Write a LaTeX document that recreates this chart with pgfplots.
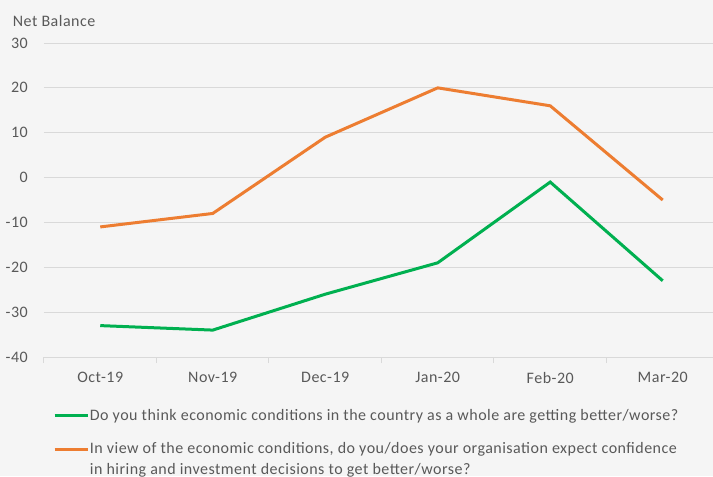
\documentclass[border=0pt]{standalone}
\usepackage{pgfplots}
\pgfplotsset{compat=1.18}
\usepackage{fontspec}
\setmainfont{Carlito}[LetterSpace=3]
\definecolor{bg}{HTML}{F5F5F5}
\definecolor{gridc}{HTML}{D9D9D9}
\definecolor{txt}{HTML}{595959}
\definecolor{cgreen}{HTML}{00B050}
\definecolor{corange}{HTML}{ED7D31}
\begin{document}
\begin{tikzpicture}
\path[use as bounding box] (-33pt,-89.25pt) rectangle (501.75pt,267.75pt);
\clip (-33pt,-89.25pt) rectangle (501.75pt,267.75pt);
\fill[bg] (-33pt,-89.25pt) rectangle (501.75pt,267.75pt);
\begin{axis}[
  at={(0,0)}, anchor=south west,
  scale only axis, width=501.75pt, height=235.5pt,
  xmin=-0.5, xmax=5.447, ymin=-40, ymax=30,
  ytick={-40,-30,...,30},
  xtick={0,...,5},
  xticklabels={Oct-19,Nov-19,Dec-19,Jan-20,Feb-20,Mar-20},
  minor xtick={-0.5,0.5,1.5,2.5,3.5,4.5},
  xtick pos=bottom, ytick pos=left,
  axis line style={draw=none},
  ymajorgrids,
  major grid style={gridc, line width=0.75pt},
  major x tick style={draw=none},
  major y tick style={draw=none},
  minor x tick style={gridc, line width=0.75pt},
  minor tick length=4.5pt,
  major tick length=0pt,
  tick align=outside,
  tick label style={font=\fontsize{12pt}{14pt}\selectfont, text=txt},
  /pgf/number format/assume math mode=true,
  yticklabel style={inner sep=0pt, anchor=east, xshift=-12pt},
  xticklabel style={inner sep=0pt, anchor=north, yshift=-11.5pt},
  legend style={at={(0.0134,-0.163)}, anchor=north west, draw=none, fill=none,
    inner sep=0pt, row sep=14.5pt, column sep=0pt, font=\fontsize{12pt}{14pt}\selectfont, text=txt,
    nodes={inner sep=0.5pt}},
  legend cell align=left,
  legend image code/.code={\draw[#1] (0pt,0pt) -- (24.75pt,0pt);},
]
\addplot[cgreen, line width=2.25pt] coordinates {(0,-33) (1,-34) (2,-26) (3,-19) (4,-1) (5,-23)};
\addlegendentry{Do you think economic conditions in the country as a whole are getting better/worse?}
\addplot[corange, line width=2.25pt] coordinates {(0,-11) (1,-8) (2,9) (3,20) (4,16) (5,-5)};
\addlegendentry{\vphantom{Iy}\smash{\parbox[t]{470pt}{\fontsize{12pt}{15.75pt}\selectfont In view of the economic conditions, do you/does your organisation expect confidence\\in hiring and investment decisions to get better/worse?}}}
\end{axis}
\node[anchor=base west, text=txt, font=\fontsize{12pt}{14pt}\selectfont, inner sep=0pt] at (-23.5pt,248.25pt) {Net Balance};
\end{tikzpicture}
\end{document}
